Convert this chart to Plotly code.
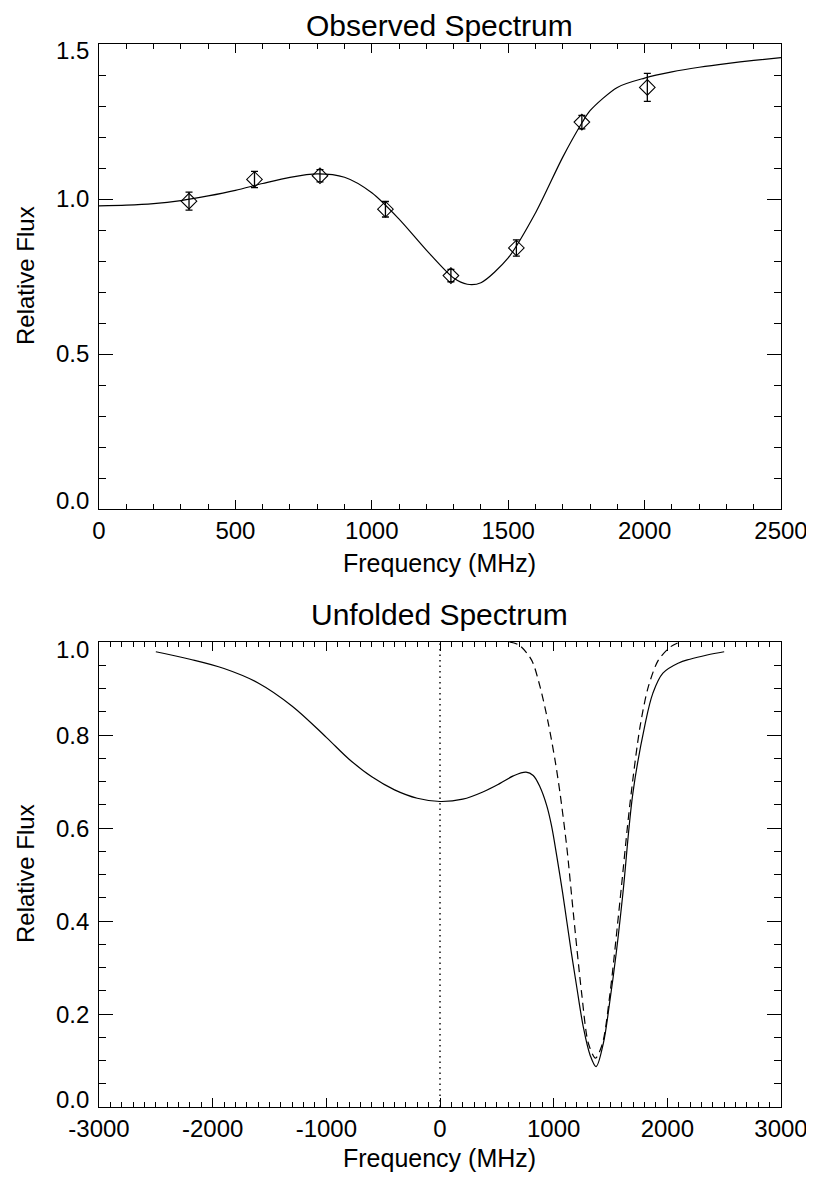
import plotly.graph_objects as go

# ---- Observed spectrum (top panel) ----
obs_freq = [330, 570, 810, 1050, 1290, 1530, 1770, 2010]
obs_flux = [0.993, 1.063, 1.075, 0.967, 0.753, 0.842, 1.248, 1.360]
obs_err = [0.029, 0.026, 0.020, 0.025, 0.020, 0.026, 0.022, 0.045]

fit_freq = [0, 100, 200, 300, 400, 500, 600, 700, 800, 900, 1000, 1100, 1200,
            1300, 1350, 1400, 1500, 1600, 1700, 1770, 1800, 1900, 2000, 2100,
            2200, 2300, 2400, 2500]
fit_flux = [0.978, 0.980, 0.985, 0.995, 1.010, 1.028, 1.050, 1.070, 1.081,
            1.070, 1.020, 0.935, 0.835, 0.745, 0.725, 0.730, 0.810, 0.955,
            1.135, 1.245, 1.285, 1.360, 1.390, 1.410, 1.425, 1.437, 1.447, 1.456]

# ---- Unfolded spectrum (bottom panel) ----
unf_freq = [-2500, -2200, -1900, -1600, -1300, -1000, -800, -600, -400, -200,
            0, 200, 381, 528, 645, 757, 820, 880, 939, 981, 1027, 1078, 1115,
            1157, 1203, 1260, 1320, 1373, 1437, 1490, 1550, 1609, 1697, 1800,
            1873, 1961, 2100, 2199, 2350, 2500]
unf_flux = [0.979, 0.963, 0.943, 0.912, 0.862, 0.795, 0.748, 0.710, 0.682,
            0.664, 0.657, 0.662, 0.678, 0.696, 0.712, 0.720, 0.713, 0.688,
            0.648, 0.605, 0.540, 0.462, 0.400, 0.330, 0.258, 0.173, 0.112,
            0.087, 0.137, 0.220, 0.330, 0.459, 0.675, 0.818, 0.890, 0.933,
            0.955, 0.963, 0.972, 0.979]

gauss_freq = [611, 698, 806, 880, 953, 1012, 1056, 1115, 1173, 1246, 1305,
              1368, 1430, 1496, 1584, 1672, 1760, 1833, 1921, 2030, 2111]
gauss_flux = [1.000, 0.993, 0.961, 0.904, 0.825, 0.746, 0.675, 0.560, 0.417,
              0.245, 0.137, 0.105, 0.137, 0.245, 0.445, 0.654, 0.818, 0.904,
              0.961, 0.990, 1.000]

zero_freq = [0, 0]
zero_flux = [0, 1]

top_xticks = [0, 500, 1000, 1500, 2000, 2500]
top_xlabels = ["0", "500", "1000", "1500", "2000", "2500"]
top_yticks = [0.0, 0.5, 1.0, 1.5]
top_ylabels = ["0.0", "0.5", "1.0", "1.5"]
bot_xticks = [-3000, -2000, -1000, 0, 1000, 2000, 3000]
bot_xlabels = ["-3000", "-2000", "-1000", "0", "1000", "2000", "3000"]
bot_yticks = [0.0, 0.2, 0.4, 0.6, 0.8, 1.0]
bot_ylabels = ["0.0", "0.2", "0.4", "0.6", "0.8", "1.0"]

# page body has an 8px margin; figure fills the rest of the window
OFF = 8
W, H = 814 - OFF, 1179 - OFF
FONT = "Liberation Sans"
TICKSZ = 24

def px_x(p):
    return (p - OFF) / W

def px_y(p):
    return 1 - (p - OFF) / H

fig = go.Figure()

fig.add_trace(go.Scatter(x=fit_freq, y=fit_flux, mode="lines",
                         line=dict(color="black", width=1.2, shape="spline", smoothing=0.8),
                         xaxis="x", yaxis="y", showlegend=False))
fig.add_trace(go.Scatter(x=obs_freq, y=obs_flux, mode="markers",
                         marker=dict(symbol="diamond-open", size=12, color="black",
                                     line=dict(width=1.1, color="black")),
                         error_y=dict(type="data", array=obs_err, color="black",
                                      thickness=1.3, width=3.5),
                         xaxis="x", yaxis="y", showlegend=False))

fig.add_trace(go.Scatter(x=unf_freq, y=unf_flux, mode="lines",
                         line=dict(color="black", width=1.2, shape="spline", smoothing=1.0),
                         xaxis="x2", yaxis="y2", showlegend=False))
fig.add_trace(go.Scatter(x=gauss_freq, y=gauss_flux, mode="lines",
                         line=dict(color="black", width=1.2, dash="8px,5px",
                                   shape="spline", smoothing=0.8),
                         xaxis="x2", yaxis="y2", showlegend=False))
fig.add_trace(go.Scatter(x=zero_freq, y=zero_flux, mode="lines",
                         line=dict(color="black", width=1.4, dash="1.5px,4px"),
                         xaxis="x2", yaxis="y2", showlegend=False))

AX_L, AX_R = 99, 781
xdom = [px_x(AX_L), px_x(AX_R)]

def xaxis(rng, tv, tt, minor_dtick, anchor):
    return dict(domain=xdom, range=rng, anchor=anchor, automargin=False,
                tickmode="array", tickvals=tv, ticktext=tt,
                ticks="inside", ticklen=9, tickwidth=1, tickcolor="black",
                showline=True, linecolor="black", linewidth=1.2, mirror="allticks",
                showgrid=False, zeroline=False,
                tickfont=dict(family=FONT, size=TICKSZ, color="black"),
                minor=dict(ticks="inside", dtick=minor_dtick, tick0=0, ticklen=5,
                           tickwidth=1, tickcolor="black", showgrid=False))

def yaxis(rng, dom, tv, minor_dtick, anchor):
    return dict(domain=dom, range=rng, anchor=anchor, automargin=False,
                tickmode="array", tickvals=tv, showticklabels=False,
                ticks="inside", ticklen=14, tickwidth=1, tickcolor="black",
                showline=True, linecolor="black", linewidth=1.2, mirror="allticks",
                showgrid=False, zeroline=False,
                minor=dict(ticks="inside", dtick=minor_dtick, tick0=0, ticklen=7,
                           tickwidth=1, tickcolor="black", showgrid=False))

fig.update_layout(
    width=W, height=H,
    margin=dict(l=0, r=0, t=0, b=0, autoexpand=False),
    paper_bgcolor="white", plot_bgcolor="white",
    font=dict(family=FONT, color="black"),
    xaxis=xaxis([0, 2500], top_xticks, top_xlabels, 100, "y"),
    yaxis=yaxis([0, 1.5], [px_y(509), px_y(44)], top_yticks, 0.1, "x"),
    xaxis2=xaxis([-3000, 3000], bot_xticks, bot_xlabels, 100, "y2"),
    yaxis2=yaxis([0, 1.0], [px_y(1107), px_y(642)], bot_yticks, 0.05, "x2"),
)

# y tick labels placed on the axis scale (end labels nudged inward like the original)
def ylabels(vals, texts, yref):
    for i, (v, t) in enumerate(zip(vals, texts)):
        shift = 0
        if i == 0:
            shift = 8
        elif i == len(vals) - 1:
            shift = -7
        fig.add_annotation(text=t, x=px_x(AX_L), y=v, xref="paper", yref=yref,
                           xanchor="right", yanchor="middle", xshift=-8, yshift=shift,
                           showarrow=False,
                           font=dict(family=FONT, size=TICKSZ, color="black"))

ylabels(top_yticks, top_ylabels, "y")
ylabels(bot_yticks, bot_ylabels, "y2")

def label(text, x, y, size, angle=0):
    fig.add_annotation(text=text, x=px_x(x), y=px_y(y), xref="paper", yref="paper",
                       showarrow=False, textangle=angle, xanchor="center",
                       yanchor="middle", font=dict(family=FONT, size=size, color="black"))

label("Observed Spectrum", 440, 26, 30)
label("Unfolded Spectrum", 440, 614, 30)
label("Frequency (MHz)", 440, 563, 25)
label("Frequency (MHz)", 440, 1158, 25)
label("Relative Flux", 25, 276, 24, -90)
label("Relative Flux", 25, 874, 24, -90)

fig.write_html("out.html")
